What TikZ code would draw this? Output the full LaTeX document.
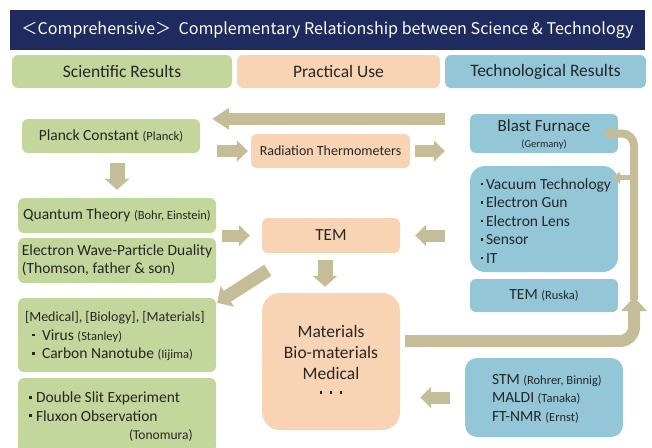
\documentclass[tikz,border=0pt]{standalone}
\usepackage{fontspec}
\setmainfont{Carlito}
\newfontfamily\jpfont{Noto Sans CJK JP}
\usetikzlibrary{arrows.meta,positioning,calc}
\definecolor{navy}{HTML}{1F2A5E}
\definecolor{sci}{HTML}{C3D69B}
\definecolor{use}{HTML}{F9D4B4}
\definecolor{tech}{HTML}{93C7D8}
\definecolor{arr}{HTML}{C4BD97}
\definecolor{ink}{HTML}{262626}
\newcommand{\fsz}[1]{\fontsize{#1}{#1}\selectfont}
\newcommand{\dotmark}[1][8pt]{\makebox[#1]{\raisebox{0.26em}{\rule{2.8pt}{2.8pt}}}}
\newcommand{\who}[1]{{\fontsize{12.5}{12.5}\selectfont #1}}

\begin{document}
\begin{tikzpicture}[x=1pt,y=-1pt,>=Stealth]
\tikzstyle{box}=[rounded corners=6pt,inner sep=0pt,text=ink,align=center]
\tikzstyle{flow}=[draw=arr,line width=12pt,-{Triangle[width=21pt,length=11pt]}]
\tikzstyle{bandflow}=[draw=arr,line width=12pt,-{Triangle[width=25pt,length=14pt]}]
\tikzstyle{thinflow}=[draw=arr,line width=8pt,-{Triangle[width=15pt,length=9pt]}]
\useasboundingbox (0,0) rectangle (652,447);
% title and column heads
\node[fill=navy,minimum width=635pt,minimum height=40pt,inner sep=0pt,text=white,font=\jpfont\fsz{16.1}] (title) at (327.5,30) {＜Comprehensive＞\ \ Complementary Relationship between Science \& Technology};
\node[box,fill=sci,minimum width=220pt,minimum height=33pt,font=\fsz{17.5}] (hsci) at (122,71.5) {Scientific Results};
\node[box,fill=use,minimum width=203pt,minimum height=33pt,font=\fsz{17.5}] (huse) at (338.5,71.5) {Practical Use};
\node[box,fill=tech,minimum width=201pt,minimum height=33pt,font=\fsz{17.5}] (htech) at (545.5,71.5) {Technological Results};
% scientific results
\node[box,fill=sci,minimum width=178pt,minimum height=34pt,font=\fsz{15.5}] (planck) at (111,136) {Planck Constant \who{(Planck)}};
\node[box,fill=sci,minimum width=198pt,minimum height=35pt,font=\fsz{15.5}] (quantum) at (117,215.5) {Quantum Theory \who{(Bohr, Einstein)}};
\node[box,fill=sci,minimum width=198pt,minimum height=45pt,align=left,font=\fontsize{15.5}{18}\selectfont] (duality) at (117,260.5) {Electron Wave-Particle Duality\\(Thomson, father \& son)};
\node[box,fill=sci,minimum width=198pt,minimum height=74pt] (fields) at (117,335) {};
\node[anchor=west,align=left,text=ink,inner sep=0pt,font=\fontsize{15.5}{18.5}\selectfont] (fieldstxt) at ([xshift=7pt,yshift=-1.5pt]fields.west) {{\fsz{14}[Medical], [Biology], [Materials]}\\\dotmark[17pt]Virus \who{(Stanley)}\\\dotmark[17pt]Carbon Nanotube \who{(Iijima)}};
\node[box,fill=sci,minimum width=198pt,minimum height=74pt] (slit) at (117,415) {};
\node[anchor=north west,align=left,text=ink,inner sep=0pt,font=\fontsize{15.5}{18.5}\selectfont] (slittxt) at ([xshift=7pt,yshift=-14pt]slit.north west) {\dotmark[11pt]Double Slit Experiment\\\dotmark[11pt]Fluxon Observation\\\hspace*{104pt}{\fsz{13.5}(Tonomura)}};
% practical use
\node[box,fill=use,minimum width=159pt,minimum height=34pt,font=\fsz{14}] (rad) at (330.5,151) {Radiation Thermometers};
\node[box,fill=use,minimum width=138pt,minimum height=35pt,font=\fsz{17}] (tem) at (331,235.5) {TEM};
\node[box,fill=use,rounded corners=18pt,minimum width=138pt,minimum height=137pt,font=\fontsize{17.5}{21}\selectfont] (mat) at (331,361.5) {Materials\\Bio-materials\\Medical\\[-2pt]\dotmark[10pt]\dotmark[10pt]\dotmark[10pt]};
% technological results
\node[box,fill=tech,minimum width=148pt,minimum height=39pt,font=\fsz{17}] (blast) at (544,133.5) {\\[-4pt]Blast Furnace\\[-1pt]{\fsz{10.5}(Germany)}};
\node[box,fill=tech,rounded corners=15pt,minimum width=148pt,minimum height=106pt] (vac) at (544,219) {};
\node[anchor=west,align=left,text=ink,inner sep=0pt,font=\fontsize{15.5}{18.5}\selectfont] (vactxt) at ([xshift=8pt,yshift=-2pt]vac.west) {\dotmark Vacuum Technology\\\dotmark Electron Gun\\\dotmark Electron Lens\\\dotmark Sensor\\\dotmark IT};
\node[box,fill=tech,minimum width=148pt,minimum height=33pt,font=\fsz{15.5}] (ruska) at (544,295.5) {TEM \who{(Ruska)}};
\node[box,fill=tech,rounded corners=12pt,minimum width=158pt,minimum height=79pt] (stm) at (544,397.5) {};
\node[anchor=west,align=left,text=ink,inner sep=0pt,font=\fontsize{15.5}{18.5}\selectfont] (stmtxt) at ([xshift=27pt,yshift=-1pt]stm.west) {STM \who{(Rohrer, Binnig)}\\MALDI \who{(Tanaka)}\\FT-NMR \who{(Ernst)}};
% block arrows
\draw[flow,-{Triangle[width=21pt,length=17pt]},shorten <=25pt,shorten >=12pt] (blast.west |- planck.north) -- (planck.north east);
\draw[flow,shorten <=17pt,shorten >=3pt] (planck.east |- rad.west) -- (rad.west);
\draw[flow,shorten <=5pt,shorten >=25pt] (rad.east) -- (blast.west |- rad.east);
\draw[flow,line width=15pt,-{Triangle[width=24pt,length=11pt]},shorten <=10pt,shorten >=8pt] (quantum.north |- planck.south) -- (quantum.north);
\draw[flow,shorten <=6pt,shorten >=12pt] (quantum.east |- tem.west) -- (tem.west);
\draw[flow,shorten <=25pt,shorten >=15pt] (vac.west |- tem.east) -- (tem.east);
\draw[flow,line width=15pt,-{Triangle[width=24pt,length=11pt]},shorten <=7pt,shorten >=6pt] ([xshift=-6pt]tem.south) -- ([xshift=-6pt]mat.north);
\draw[flow,line width=13pt,-{Triangle[width=24pt,length=12pt]}] ([shift={(6pt,-17pt)}]tem.south west) -- ([shift={(1pt,-5pt)}]fields.north east);
\draw[flow,shorten <=15pt,shorten >=20pt] (stm.west) -- (mat.east |- stm.west);
% loop back up to the technology column
\coordinate (riser) at (634,297);
\coordinate (bandstart) at (405,341);
\coordinate (vtap) at ([yshift=-12pt]vac.north east);
\draw[bandflow,rounded corners=14pt] (bandstart) -| (riser);
\draw[thinflow,rounded corners=12pt] ([yshift=-3pt]riser) |- ([xshift=-15pt]blast.east);
\draw[thinflow,line width=5pt,-{Triangle[width=12pt,length=8pt]}] (riser |- vtap) -- ([xshift=-6pt]vtap);
\end{tikzpicture}
\end{document}
